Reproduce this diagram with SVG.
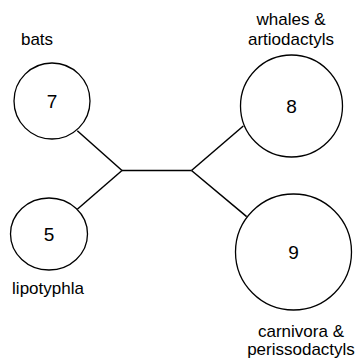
<svg xmlns="http://www.w3.org/2000/svg" width="362" height="358" viewBox="0 0 362 358">
<style>
.n{fill:#fff;stroke:#000;stroke-width:1.3}
.d{font-family:"Liberation Sans",Arial,sans-serif;font-size:19px;text-anchor:middle;fill:#000}
.l{font-family:"Liberation Sans",Arial,sans-serif;font-size:17px;text-anchor:middle;fill:#000}
.e{stroke:#000;stroke-width:1.5;fill:none}
</style>
<rect width="362" height="358" fill="#fff"/>
<g id="connectors">
<line class="e" x1="77.3" y1="130.7" x2="122" y2="170.5"/>
<line class="e" x1="77.3" y1="209.3" x2="122" y2="170.5"/>
<line class="e" x1="122" y1="170.5" x2="191.5" y2="170.5" stroke="#333" stroke-width="1.8"/>
<line class="e" x1="191.5" y1="170.5" x2="243.3" y2="126"/>
<line class="e" x1="191.5" y1="170.5" x2="246.7" y2="216.7"/>
</g>
<g id="n7">
<circle class="n" cx="52" cy="101" r="38"/>
<text class="d" x="52" y="108">7</text>
<text class="l" x="37" y="45">bats</text>
</g>
<g id="n5">
<ellipse class="n" cx="49" cy="234" rx="38.5" ry="36"/>
<text class="d" x="49" y="241">5</text>
<text class="l" x="48" y="294">lipotyphla</text>
</g>
<g id="n8">
<circle class="n" cx="291.5" cy="106" r="51"/>
<text class="d" x="291.5" y="113">8</text>
<text class="l" x="291" y="25">whales &amp;</text>
<text class="l" x="291" y="45">artiodactyls</text>
</g>
<g id="n9">
<circle class="n" cx="293.5" cy="252" r="58"/>
<text class="d" x="293.5" y="259">9</text>
<text class="l" x="301" y="337">carnivora &amp;</text>
<text class="l" x="301" y="355">perissodactyls</text>
</g>
</svg>
